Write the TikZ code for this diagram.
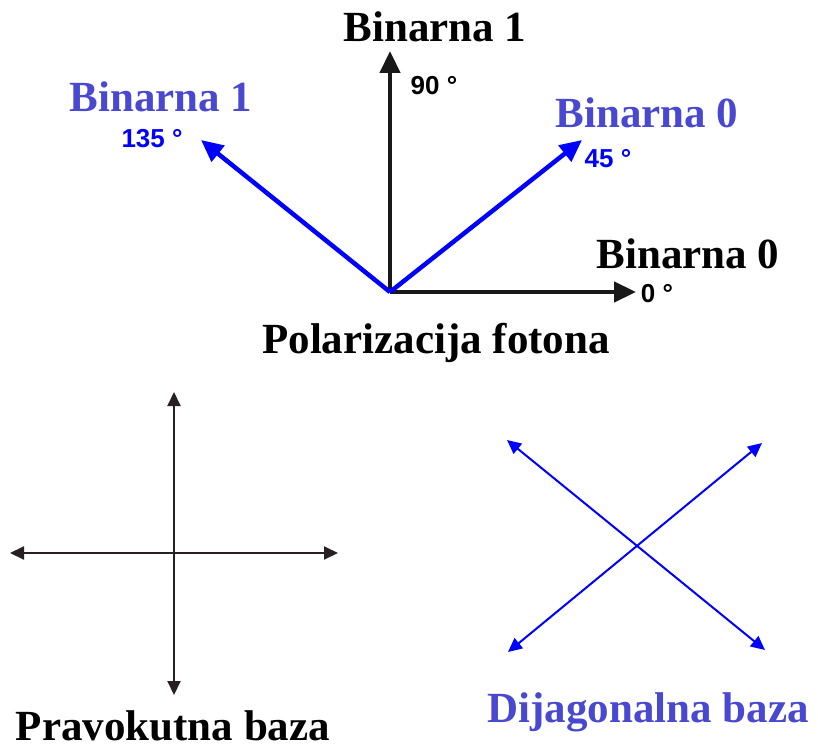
\documentclass[tikz,border=0pt]{standalone}
\usepackage{fontspec}
\usepackage{tikz}
\usetikzlibrary{arrows.meta,positioning,calc}
\newfontfamily\labelfont{Liberation Serif}
\newfontfamily\degreefont{Liberation Sans}
\definecolor{vecblue}{RGB}{0,0,255}
\definecolor{labelblue}{RGB}{72,72,208}
\definecolor{axisdark}{RGB}{40,32,32}
\tikzset{
  binlabel/.style={inner sep=0pt, anchor=base, font=\labelfont\bfseries\fontsize{43}{48}\selectfont},
  deglabel/.style={inner sep=0pt, anchor=base, font=\degreefont\bfseries\fontsize{26}{30}\selectfont},
  polvec/.style={line width=4.5pt, -{Triangle[length=22pt,width=20pt]}},
  baseaxis/.style={line width=2pt, {Triangle[length=14pt,width=13pt]}-{Triangle[length=14pt,width=13pt]}}
}

\begin{document}
\begin{tikzpicture}[x=1pt,y=-1pt]
  \useasboundingbox (0,0) rectangle (818,751);

  % polarizacija fotona
  \coordinate (origin) at (390,292);
  \coordinate (tip0) at (636,292);
  \coordinate (tip45) at (582,140);
  \coordinate (tip90) at (390,51);
  \coordinate (tip135) at (201,140);

  \draw[polvec, black!90] (origin) -- (tip0);
  \draw[polvec, black!90] (origin) -- (tip90);
  \draw[polvec, vecblue] (origin) -- (tip45);
  \draw[polvec, vecblue] (origin) -- (tip135);

  \node[binlabel] (bin1top) at (435,42) {Binarna 1};
  \node[deglabel] (deg90) at (434,95) {90 °};
  \node[binlabel, text=labelblue] (bin1left) at (161,112) {Binarna 1};
  \node[deglabel, text=vecblue] (deg135) at (152,148) {135 °};
  \node[binlabel, text=labelblue] (bin0right) at (647,128) {Binarna 0};
  \node[deglabel, text=vecblue] (deg45) at (608,168) {45 °};
  \node[binlabel] (bin0low) at (688,268) {Binarna 0};
  \node[deglabel] (deg0) at (657,302) {0 °};
  \node[binlabel] (title) at (436,353) {Polarizacija fotona};

  % pravokutna baza
  \coordinate (rectup) at (174,392);
  \coordinate (rectdown) at (174,695);
  \coordinate (rectleft) at (10,553);
  \coordinate (rectright) at (338,553);
  \draw[baseaxis, axisdark] (rectdown) -- (rectup);
  \draw[baseaxis, axisdark] (rectleft) -- (rectright);
  \node[binlabel] (rectname) at (173,740) {Pravokutna baza};

  % dijagonalna baza
  \coordinate (diagul) at (507,440);
  \coordinate (diagur) at (762,443);
  \coordinate (diagll) at (508,652);
  \coordinate (diaglr) at (765,650);
  \draw[baseaxis, vecblue] (diagll) -- (diagur);
  \draw[baseaxis, vecblue] (diagul) -- (diaglr);
  \node[binlabel, text=labelblue] (diagname) at (648,722) {Dijagonalna baza};
\end{tikzpicture}
\end{document}
